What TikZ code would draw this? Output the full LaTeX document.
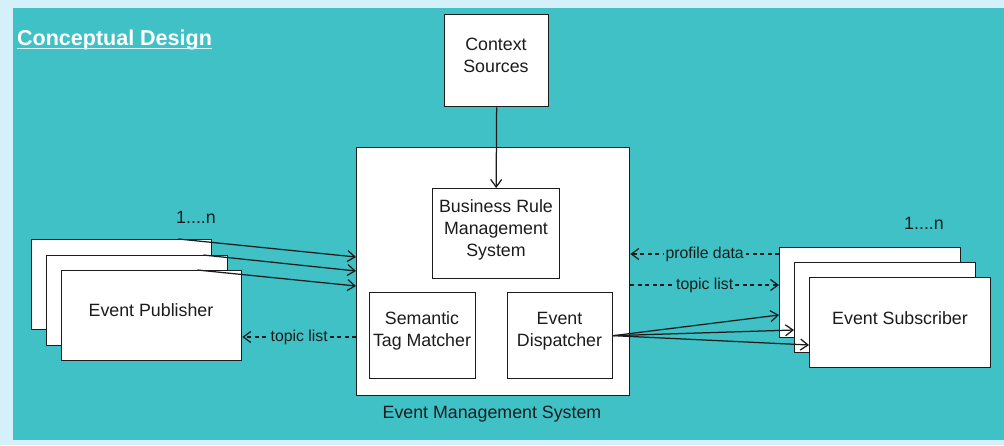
\documentclass[tikz,border=0pt]{standalone}
\usepackage{fontspec}
\setmainfont{Liberation Sans}
\usetikzlibrary{arrows.meta,calc}
\definecolor{panel}{HTML}{3FC1C6}
\definecolor{frame}{HTML}{D4F1FA}
\definecolor{ink}{HTML}{1C1C1C}
\begin{document}
\begin{tikzpicture}[x=1pt,y=-1pt,
  box/.style={draw=ink, fill=white, line width=1.3pt, inner sep=0pt, anchor=north west},
  txt/.style={text=ink, font=\fontsize{17.8}{22}\selectfont, align=center, inner sep=0pt},
  lbl/.style={text=ink, font=\fontsize{15.8}{18}\selectfont, fill=panel, inner sep=2pt},
  conn/.style={draw=ink, line width=1.25pt, -{Straight Barb[length=7.5pt,width=11pt]}},
  dashconn/.style={conn, dash pattern=on 4pt off 3.5pt}]

% background frame and panel
\fill[frame] (0,0) rectangle (1004,445);
\fill[panel] (13,8) rectangle (1004,440);
\useasboundingbox (0,0) rectangle (1004,445);

% title
\node[anchor=base west, text=white, inner sep=0pt,
      font=\fontsize{21.5}{24}\selectfont\bfseries] (title) at (17,45) {Conceptual Design};
\draw[white!80!panel, line width=1.4pt]
  ($(title.base west)+(0,3.5)$) -- ($(title.base east)+(0,3.5)$);

% context sources
\node[box, minimum width=104pt, minimum height=92pt] (ctx) at (444,14) {};
\node[txt] (ctxt) at (496,55) {Context\\Sources};

% event management system
\node[box, minimum width=273pt, minimum height=248pt] (ems) at (356,147) {};
\node[box, minimum width=127pt, minimum height=90pt] (brms) at (432,188) {};
\node[txt] (brmst) at (496,230) {Business Rule\\Management\\System};
\node[box, minimum width=106pt, minimum height=86pt] (stm) at (369,292) {};
\node[txt] (stmt) at (422,331) {Semantic\\Tag Matcher};
\node[box, minimum width=105pt, minimum height=86pt] (ed) at (507,292) {};
\node[txt] (edt) at (559.5,331) {Event\\Dispatcher};
\node[txt] (emst) at (492,414) {Event Management System};

% publishers
\node[box, minimum width=180pt, minimum height=90pt] (pubA) at (31,239) {};
\node[box, minimum width=181pt, minimum height=90pt] (pubB) at (46,255) {};
\node[box, minimum width=180pt, minimum height=90pt] (pubC) at (61,270) {};
\node[txt] (pubt) at (151,310) {Event Publisher};
\node[txt] (mult1) at (196,217) {1....n};

% subscribers
\node[box, minimum width=181pt, minimum height=90pt] (subA) at (779,247) {};
\node[box, minimum width=181pt, minimum height=90pt] (subB) at (794,262) {};
\node[box, minimum width=181pt, minimum height=90pt] (subC) at (809,277) {};
\node[txt] (subt) at (900,318) {Event Subscriber};
\node[txt] (mult2) at (924,223) {1....n};

% connectors
\draw[conn] (ctx.south) -- (brms.north);
\draw[conn] ($(pubA.north east)+(-34,0)$) -- ($(ems.north west)+(0,110)$);
\draw[conn] ($(pubB.north east)+(-25,0)$) -- ($(ems.north west)+(0,124)$);
\draw[conn] ($(pubC.north east)+(-45,0)$) -- ($(ems.north west)+(0,139)$);
\draw[dashconn] ($(ems.north west)+(0,190)$) -- node[lbl] {topic list} ($(pubC.north east)+(0,67)$);
\draw[dashconn] ($(subA.north west)+(0,7)$) -- node[lbl] {profile data} ($(ems.north east)+(0,107)$);
\draw[dashconn] ($(ems.north east)+(0,138)$) -- node[lbl] {topic list} ($(subA.north west)+(0,38)$);
\draw[conn] (ed.east) -- ($(subA.north west)+(0,68)$);
\draw[conn] (ed.east) -- ($(subB.north west)+(0,68)$);
\draw[conn] (ed.east) -- ($(subC.north west)+(0,68)$);
\end{tikzpicture}
\end{document}
